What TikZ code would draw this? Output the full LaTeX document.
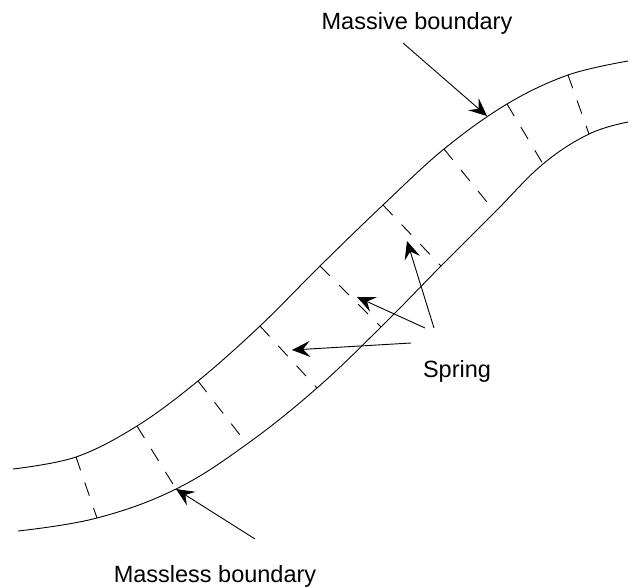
\documentclass[tikz,border=0pt]{standalone}
\usepackage{fontspec}
\setmainfont{Liberation Sans}
\usetikzlibrary{arrows.meta}
\begin{document}
\begin{tikzpicture}[x=1pt,y=-1pt,
  boundary/.style={line width=0.9pt},
  springline/.style={line width=0.9pt, dash pattern=on 14pt off 13pt},
  pointer/.style={line width=0.9pt, -{Stealth[length=18pt,width=16pt,inset=7pt]}},
  lbltext/.style={font=\fontsize{23.5}{28}\selectfont, anchor=base, inner sep=0pt}]
\useasboundingbox (0,0) rectangle (639,587);
% upper (massive) boundary
\coordinate (u0) at (13,469);
\coordinate (u1) at (76,457);
\coordinate (u2) at (137,426);
\coordinate (u3) at (198,381);
\coordinate (u4) at (260,326);
\coordinate (u5) at (320,266);
\coordinate (u6) at (383,205);
\coordinate (u7) at (444,149);
\coordinate (u8) at (507,104);
\coordinate (u9) at (568,75);
\coordinate (u10) at (628,61);
% lower (massless) boundary
\coordinate (l0) at (18,531);
\coordinate (l1) at (97,518);
\coordinate (l2) at (176,489);
\coordinate (l3) at (247,444);
\coordinate (l4) at (317,388);
\coordinate (l5) at (381,327);
\coordinate (l6) at (441,266);
\coordinate (l7) at (495,212);
\coordinate (l8) at (543,164);
\coordinate (l9) at (589,134);
\coordinate (l10) at (628,122);
\draw[boundary] plot[smooth, tension=0.6] coordinates {(u0) (u1) (u2) (u3) (u4) (u5) (u6) (u7) (u8) (u9) (u10)};
\draw[boundary] plot[smooth, tension=0.65] coordinates {(l0) (l1) (l2) (l3) (l4) (l5) (l6) (l7) (l8) (l9) (l10)};
\foreach \i in {1,...,9} \draw[springline] (u\i) -- (l\i);
% labels
\node[lbltext] (massive) at (417,29) {Massive boundary};
\node[lbltext] (massless) at (215,582) {Massless boundary};
\node[lbltext] (spring) at (457,377) {Spring};
% pointers
\coordinate (mtail) at (403,43);
\coordinate (mtip) at (487,116);
\draw[pointer] (mtail) -- (mtip);
\coordinate (ltail) at (255,539);
\draw[pointer] (ltail) -- (l2);
\coordinate (s1tail) at (434,328);
\coordinate (s1tip) at (407,241);
\coordinate (s2tail) at (425,328);
\coordinate (s2tip) at (357,297);
\coordinate (s3tail) at (411,343);
\coordinate (s3tip) at (292,350);
\draw[pointer] (s1tail) -- (s1tip);
\draw[pointer] (s2tail) -- (s2tip);
\draw[pointer] (s3tail) -- (s3tip);
\end{tikzpicture}
\end{document}
